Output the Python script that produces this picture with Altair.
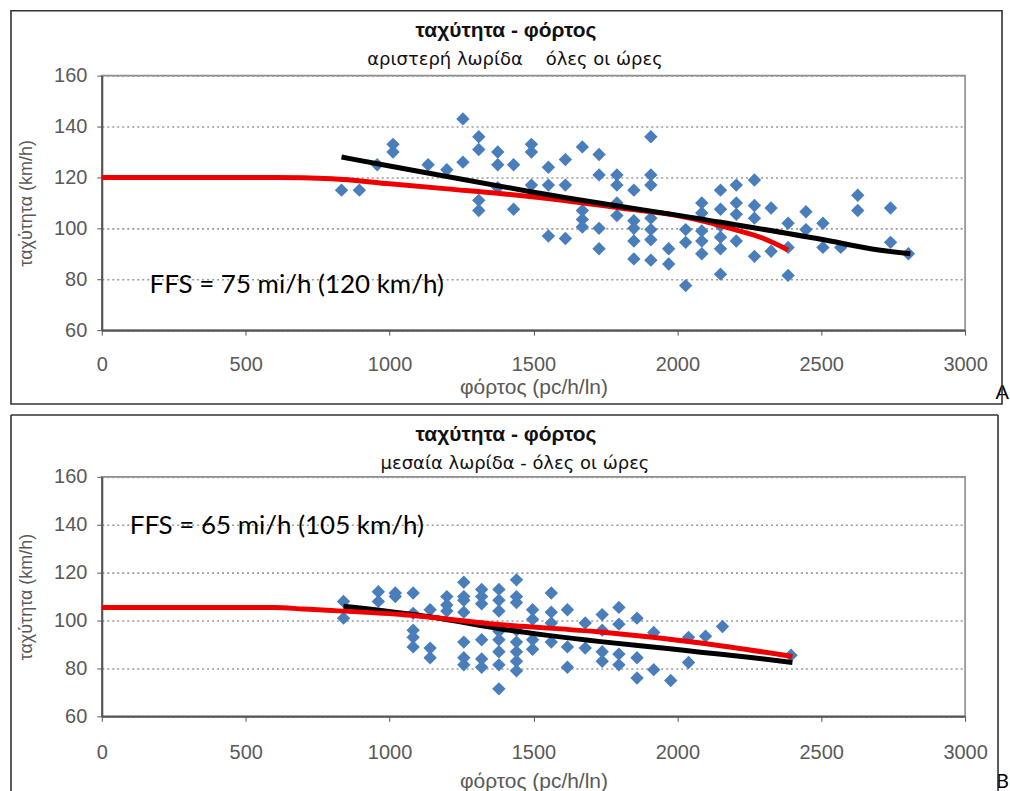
import altair as alt
import pandas as pd

# ---------------- data: panel A (left lane) ----------------
A_LOAD = [833, 895, 957, 1012, 1012, 1134, 1199, 1255, 1255, 1310, 1310, 1310, 1310,
          1376, 1376, 1376, 1431, 1431, 1493, 1493, 1493, 1552, 1552, 1552,
          1611, 1611, 1611, 1670, 1670, 1670, 1670, 1728, 1728, 1728, 1728,
          1790, 1790, 1790, 1790, 1849, 1849, 1849, 1849, 1849,
          1908, 1908, 1908, 1908, 1908, 1908, 1908, 1970, 1970, 2029, 2029, 2029,
          2085, 2085, 2085, 2085, 2085, 2150, 2150, 2150, 2150, 2150, 2150,
          2205, 2205, 2205, 2205, 2268, 2268, 2268, 2268, 2326, 2326,
          2385, 2385, 2385, 2447, 2447, 2506, 2506, 2568, 2627, 2627, 2741, 2741, 2803]
A_SPEED = [115, 115, 125, 133, 130, 125, 123, 143, 126, 136, 131, 111, 107,
           130, 125, 116, 125, 107.5, 133, 130, 117, 124, 117, 97,
           127, 117, 96, 132, 107, 103.5, 100.5, 129, 121, 100, 92,
           121, 117, 110, 105, 115, 103, 100, 95, 88,
           136, 121, 117, 104, 99.5, 95.5, 87.5, 92, 86, 99.5, 94.5, 77.5,
           110, 106, 99, 95, 90, 115, 107.5, 101, 96.5, 92, 82,
           117, 110, 105.5, 95, 119, 109, 104, 89, 108, 91,
           102, 92.5, 81.5, 106.5, 99.5, 102, 92.5, 92.5, 113, 107, 108, 94.5, 90]
A_HCM_LOAD = [0, 600, 800, 1000, 1200, 1400, 1600, 1800, 2000, 2200, 2300, 2385]
A_HCM_SPEED = [120, 120, 119.5, 117.5, 115.5, 113.5, 111, 108, 105, 99.5, 96, 91.5]
A_FIT_LOAD = [833, 1000, 1500, 2150, 2500, 2700, 2810]
A_FIT_SPEED = [128, 124.5, 114.2, 102.4, 95.7, 91.5, 90]

# ---------------- data: panel B (middle lane) ----------------
B_LOAD = [840, 840, 961, 961, 1020, 1020, 1082, 1082, 1082, 1082, 1082,
          1141, 1141, 1141, 1199, 1199, 1199, 1258, 1258, 1258, 1258, 1258, 1258, 1258,
          1320, 1320, 1320, 1320, 1320, 1320,
          1380, 1380, 1380, 1380, 1380, 1380, 1380, 1380,
          1441, 1441, 1441, 1441, 1441, 1441, 1441, 1441,
          1497, 1497, 1497, 1497, 1562, 1562, 1562, 1562, 1618, 1618, 1618,
          1680, 1680, 1739, 1739, 1739, 1739, 1797, 1797, 1797, 1797,
          1860, 1860, 1860, 1918, 1918, 1977, 2039, 2039, 2098, 2157, 2395]
B_SPEED = [108, 101, 112, 108, 111.5, 110, 111.5, 103, 96, 93, 89,
           104.5, 88.5, 84.5, 110, 106.5, 104, 116, 110, 108.5, 103.5, 91, 84.5, 81.5,
           113, 110, 107, 92, 84, 80.5,
           113, 108.5, 104, 95.5, 92, 87, 81.5, 71.5,
           117, 110, 107.5, 96, 91, 87, 83, 79,
           104.5, 100.5, 92, 88, 111.5, 103.5, 99, 91, 104.5, 89, 80.5,
           99, 88.5, 102.5, 96, 87, 83, 105.5, 98.5, 86, 81.5,
           101, 84.5, 76, 95, 79.5, 75, 93, 82.5, 93.5, 97.5, 85.5]
B_HCM_LOAD = [0, 600, 700, 1041, 1387, 1734, 2081, 2400]
B_HCM_SPEED = [105.5, 105.5, 104.8, 102.5, 98.3, 95.2, 90.6, 85]
B_FIT_LOAD = [840, 1145, 1387, 1734, 1966, 2081, 2240, 2400]
B_FIT_SPEED = [106, 101.5, 96.5, 91.2, 88.3, 86.8, 84.8, 82.5]

X_TICKS = [0, 500, 1000, 1500, 2000, 2500, 3000]
Y_TICKS = [60, 80, 100, 120, 140, 160]

NB = "\u00a0"
TITLE = "ταχύτητα - φόρτος"
SUB_A = "αριστερή λωρίδα" + NB * 4 + "όλες οι ώρες"
SUB_B = "μεσαία λωρίδα" + NB + "-" + NB + "όλες οι ώρες"
FFS_A = "FFS = 75 mi/h (120 km/h)"
FFS_B = "FFS = 65 mi/h (105 km/h)"
X_TITLE = "φόρτος (pc/h/ln)"
Y_TITLE = "ταχύτητα (km/h)"

NARROW = "Liberation Sans Narrow, Liberation Sans, Arial, sans-serif"
W = 865
ONE = pd.DataFrame({"k": [0]})
BLUE = "#4a7ebb"


def panel(load, speed, rx, ry, bx, by, height, subtitle, ffs, ffs_x, ffs_y,
          letter, letter_y, xlab_pad, xtitle_y, frame_top, frame_bottom, closed, red_on_top):
    xenc = alt.X("load:Q", scale=alt.Scale(domain=[0, 3000], nice=False, zero=False),
                 axis=alt.Axis(values=X_TICKS, format="d", title=X_TITLE, grid=False, tickSize=5,
                               tickColor="#555", domainColor="#555", domainWidth=2,
                               labelFont=NARROW, labelFontSize=20, labelColor="#595959",
                               labelPadding=xlab_pad, labelFlush=False,
                               titleFont=NARROW, titleFontSize=21, titleFontWeight="normal",
                               titleColor="#595959", titleY=xtitle_y, titleBaseline="middle"))
    yenc = alt.Y("speed:Q", scale=alt.Scale(domain=[60, 160], nice=False, zero=False),
                 axis=alt.Axis(values=Y_TICKS, format="d", title=Y_TITLE, grid=True, gridDash=[2, 3],
                               gridColor="#9a9a9a", gridWidth=1.6, tickSize=5,
                               tickColor="#555", domainColor="#555", domainWidth=2,
                               labelFont=NARROW, labelFontSize=20, labelColor="#595959",
                               labelPadding=10, labelFlush=False,
                               titleFont=NARROW, titleFontSize=18, titleFontWeight="normal",
                               titleColor="#595959", titleX=-75, titleY=height / 2,
                               titleAngle=270, titleBaseline="middle", titleAlign="center"))

    pts = alt.Chart(pd.DataFrame({"load": load, "speed": speed})).mark_point(
        shape="diamond", filled=True, size=180, color=BLUE, opacity=1
    ).encode(x=xenc, y=yenc)
    red = alt.Chart(pd.DataFrame({"load": rx, "speed": ry})).mark_line(
        color="#ee0000", strokeWidth=5, interpolate="monotone"
    ).encode(x=xenc, y=yenc)
    blk = alt.Chart(pd.DataFrame({"load": bx, "speed": by})).mark_line(
        color="#000000", strokeWidth=5, interpolate="monotone"
    ).encode(x=xenc, y=yenc)
    ffs_t = alt.Chart(pd.DataFrame({"load": [ffs_x], "speed": [ffs_y], "t": [ffs]})).mark_text(
        align="left", baseline="middle", font="Lato, Open Sans, sans-serif", fontSize=26, color="#000"
    ).encode(x=xenc, y=yenc, text="t:N")

    title_t = alt.Chart(ONE).mark_text(
        text=TITLE, font=NARROW, fontSize=21, fontWeight="bold", color="#111",
        align="center", baseline="middle"
    ).encode(x=alt.value(405), y=alt.value(frame_top + 20))
    sub_t = alt.Chart(ONE).mark_text(
        text=subtitle, font="DejaVu Sans, sans-serif", fontSize=18, color="#111",
        align="center", baseline="middle"
    ).encode(x=alt.value(414), y=alt.value(frame_top + 49))
    letter_t = alt.Chart(ONE).mark_text(
        text=letter, font="Lato, sans-serif", fontSize=20, color="#000",
        align="right", baseline="alphabetic"
    ).encode(x=alt.value(909), y=alt.value(letter_y))

    deco = []
    if closed:
        deco.append(alt.Chart(ONE).mark_rect(fillOpacity=0, stroke="#333", strokeWidth=1.6).encode(
            x=alt.value(-91), x2=alt.value(902), y=alt.value(frame_top), y2=alt.value(frame_bottom)))
    else:
        deco.append(alt.Chart(ONE).mark_rule(opacity=0).encode(
            x=alt.value(0), x2=alt.value(10), y=alt.value(-65)))
        deco.append(alt.Chart(ONE).mark_rule(color="#333", strokeWidth=1.6).encode(
            x=alt.value(-91), x2=alt.value(898), y=alt.value(frame_top)))
        deco.append(alt.Chart(ONE).mark_rule(color="#333", strokeWidth=1.6).encode(
            x=alt.value(-91), y=alt.value(frame_top), y2=alt.value(frame_bottom)))
        deco.append(alt.Chart(ONE).mark_rule(color="#333", strokeWidth=1.6).encode(
            x=alt.value(898), y=alt.value(frame_top), y2=alt.value(frame_bottom)))

    lines = [blk, red] if red_on_top else [red, blk]
    return alt.layer(pts, *lines, ffs_t, title_t, sub_t, letter_t, *deco).properties(
        width=W, height=height)


top = panel(A_LOAD, A_SPEED, A_HCM_LOAD, A_HCM_SPEED, A_FIT_LOAD, A_FIT_SPEED, 255, SUB_A,
            FFS_A, 166, 77.6, "A", 324, 19, 57, -65, 329, True, False)
bottom = panel(B_LOAD, B_SPEED, B_HCM_LOAD, B_HCM_SPEED, B_FIT_LOAD, B_FIT_SPEED, 240, SUB_B,
               FFS_B, 97, 139.6, "B", 312, 21, 65, -62, 317, False, True)

chart = alt.vconcat(top, bottom, spacing=5).properties(
    padding={"left": 9, "top": 8, "right": 0, "bottom": 0},
    background="white",
).configure_view(stroke="#8c8c8c", strokeWidth=1.6)

chart.save("out.html", embed_options={"renderer": "svg", "actions": False})
